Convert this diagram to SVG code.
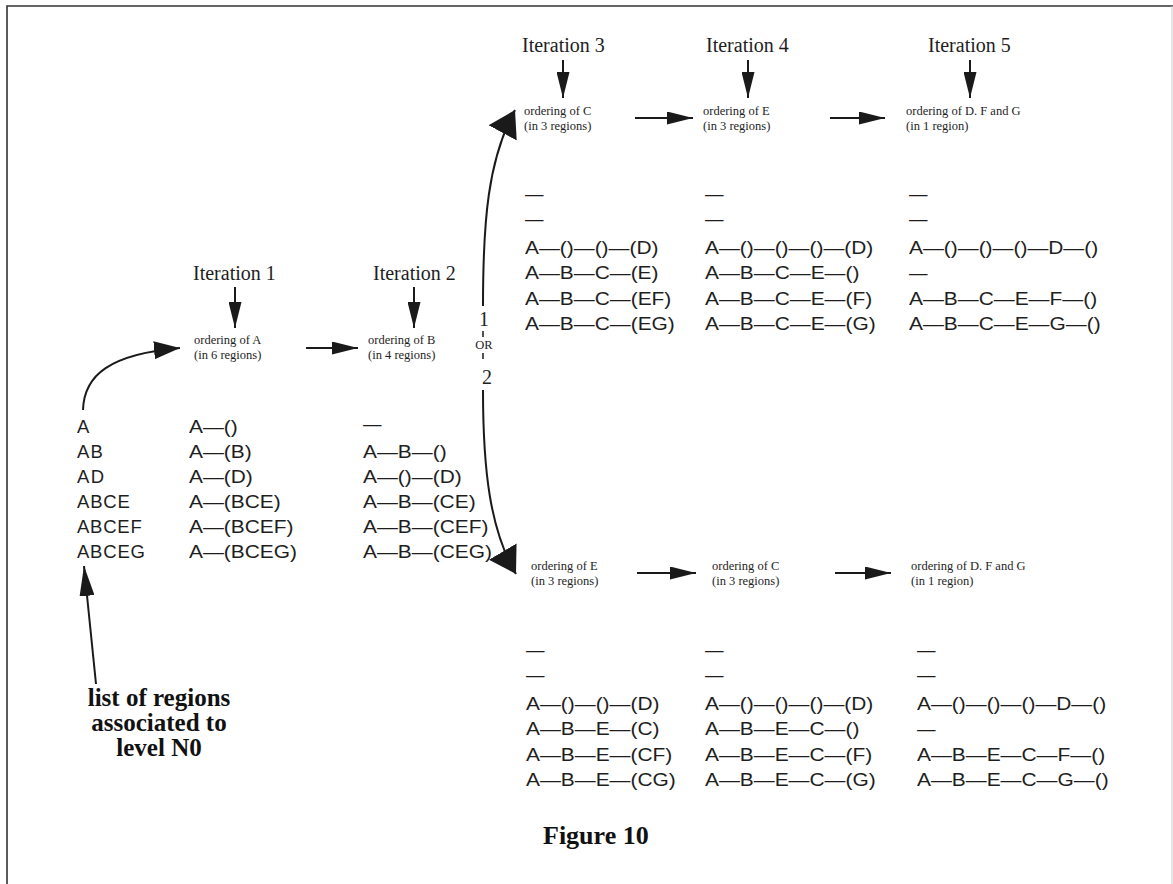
<svg xmlns="http://www.w3.org/2000/svg" width="1173" height="884" viewBox="0 0 1173 884">
<style>
.it{font-family:"Liberation Serif",serif;font-size:20px;fill:#1e1e1e}
.ord{font-family:"Liberation Serif",serif;font-size:12.5px;fill:#1e1e1e}
.ls{font-family:"Liberation Sans",sans-serif;font-size:18.5px;fill:#1e1e1e}
.bold{font-family:"Liberation Serif",serif;font-weight:bold;fill:#111}
.ln{fill:none;stroke:#1a1a1a;stroke-width:2}
.thin{fill:none;stroke:#1a1a1a;stroke-width:1.5}
.frame{fill:none;stroke:#333;stroke-width:1.6}
</style>
<defs>
<marker id="ma" markerUnits="userSpaceOnUse" markerWidth="26" markerHeight="13" refX="26" refY="6.5" orient="auto"><path d="M0,0 L26,6.5 L0,13 z" fill="#1a1a1a"/></marker>
<marker id="mb" markerUnits="userSpaceOnUse" markerWidth="26" markerHeight="18" refX="26" refY="9" orient="auto"><path d="M0,0 L26,9 L0,18 z" fill="#1a1a1a"/></marker>
<marker id="mc" markerUnits="userSpaceOnUse" markerWidth="30" markerHeight="15" refX="30" refY="7.5" orient="auto"><path d="M0,0 L30,7.5 L0,15 z" fill="#1a1a1a"/></marker>
<marker id="mw" markerUnits="userSpaceOnUse" markerWidth="26" markerHeight="32" refX="26" refY="16" orient="auto"><path d="M0,0 L26,16 L0,32 z" fill="#1a1a1a"/></marker>
</defs>
<rect width="1173" height="884" fill="#fff"/>
<path class="frame" d="M7,884 L7,6 L1173,6"/>
<path d="M1172,6 L1172,884" fill="none" stroke="#ccc" stroke-width="1"/>

<g id="connectors">
<path class="ln" d="M83,410 C84,375 110,354 180,348" marker-end="url(#mb)"/>
<path class="ln" d="M235,287 L235,328" marker-end="url(#ma)"/>
<path class="ln" d="M414,287 L414,328" marker-end="url(#ma)"/>
<path class="ln" d="M306,348 L358,348" marker-end="url(#ma)"/>
<path class="ln" d="M563,60 L563,98" marker-end="url(#ma)"/>
<path class="ln" d="M748,60 L748,98" marker-end="url(#ma)"/>
<path class="ln" d="M970,60 L970,98" marker-end="url(#ma)"/>
<path class="ln" d="M635,118 L693,118" marker-end="url(#ma)"/>
<path class="ln" d="M830,118 L885,118" marker-end="url(#ma)"/>
<path class="ln" d="M637,573 L696,573" marker-end="url(#ma)"/>
<path class="ln" d="M835,573 L891,573" marker-end="url(#ma)"/>
<path class="ln" d="M483,306 C483,220 488,160 515,110" marker-end="url(#mw)"/>
<path class="ln" d="M483,390 C483,470 490,530 516,574" marker-end="url(#mw)"/>
<path class="thin" d="M483,331 L483,337 M483,353 L483,359"/>
<path class="ln" d="M96,684 L84,566" marker-end="url(#mc)"/>
</g>

<g id="or-label">
<text class="it" x="484" y="326" text-anchor="middle" font-size="19">1</text>
<text class="ord" x="484" y="349" text-anchor="middle" font-size="10">OR</text>
<text class="it" x="487" y="384" text-anchor="middle" font-size="19">2</text>
</g>

<g id="n0-list" class="ls">
<text x="77" y="433">A</text>
<text x="77" y="458" textLength="25.9">AB</text>
<text x="77" y="483" textLength="27">AD</text>
<text x="77" y="508" textLength="52.8">ABCE</text>
<text x="77" y="533" textLength="64.7">ABCEF</text>
<text x="77" y="558" textLength="67.9">ABCEG</text>
</g>

<g id="iteration1">
<text class="it" x="193" y="280">Iteration 1</text>
<text class="ord" x="194" y="344">ordering of A</text>
<text class="ord" x="194" y="359">(in 6 regions)</text>
<g class="ls">
<text x="189" y="433" textLength="48.8" lengthAdjust="spacingAndGlyphs">A—()</text>
<text x="189" y="458" textLength="62.7" lengthAdjust="spacingAndGlyphs">A—(B)</text>
<text x="189" y="483" textLength="63.8" lengthAdjust="spacingAndGlyphs">A—(D)</text>
<text x="189" y="508" textLength="91.7" lengthAdjust="spacingAndGlyphs">A—(BCE)</text>
<text x="189" y="533" textLength="104.5" lengthAdjust="spacingAndGlyphs">A—(BCEF)</text>
<text x="189" y="558" textLength="108" lengthAdjust="spacingAndGlyphs">A—(BCEG)</text>
</g>
</g>

<g id="iteration2">
<text class="it" x="373" y="280">Iteration 2</text>
<text class="ord" x="368" y="344">ordering of B</text>
<text class="ord" x="368" y="359">(in 4 regions)</text>
<g class="ls">
<text x="363" y="430">—</text>
<text x="363" y="458" textLength="83.6" lengthAdjust="spacingAndGlyphs">A—B—()</text>
<text x="363" y="483" textLength="98.7" lengthAdjust="spacingAndGlyphs">A—()—(D)</text>
<text x="363" y="508" textLength="112.6" lengthAdjust="spacingAndGlyphs">A—B—(CE)</text>
<text x="363" y="533" textLength="125.4" lengthAdjust="spacingAndGlyphs">A—B—(CEF)</text>
<text x="363" y="558" textLength="128.9" lengthAdjust="spacingAndGlyphs">A—B—(CEG)</text>
</g>
</g>

<g id="iteration3-c">
<text class="it" x="522" y="52">Iteration 3</text>
<text class="ord" x="524" y="115">ordering of C</text>
<text class="ord" x="524" y="130">(in 3 regions)</text>
<g class="ls">
<text x="525" y="200">—</text>
<text x="525" y="225">—</text>
<text x="525" y="254" textLength="133.5" lengthAdjust="spacingAndGlyphs">A—()—()—(D)</text>
<text x="525" y="279" textLength="133.5" lengthAdjust="spacingAndGlyphs">A—B—C—(E)</text>
<text x="525" y="304.5" textLength="146.3" lengthAdjust="spacingAndGlyphs">A—B—C—(EF)</text>
<text x="525" y="330" textLength="149.8" lengthAdjust="spacingAndGlyphs">A—B—C—(EG)</text>
</g>
</g>

<g id="iteration4-e">
<text class="it" x="706" y="52">Iteration 4</text>
<text class="ord" x="703" y="115">ordering of E</text>
<text class="ord" x="703" y="130">(in 3 regions)</text>
<g class="ls">
<text x="705" y="200">—</text>
<text x="705" y="225">—</text>
<text x="705" y="254" textLength="168.3" lengthAdjust="spacingAndGlyphs">A—()—()—()—(D)</text>
<text x="705" y="279" textLength="154.4" lengthAdjust="spacingAndGlyphs">A—B—C—E—()</text>
<text x="705" y="304.5" textLength="167.2" lengthAdjust="spacingAndGlyphs">A—B—C—E—(F)</text>
<text x="705" y="330" textLength="170.7" lengthAdjust="spacingAndGlyphs">A—B—C—E—(G)</text>
</g>
</g>

<g id="iteration5-dfg">
<text class="it" x="928" y="52">Iteration 5</text>
<text class="ord" x="906" y="115">ordering of D. F and G</text>
<text class="ord" x="906" y="130">(in 1 region)</text>
<g class="ls">
<text x="909" y="200">—</text>
<text x="909" y="225">—</text>
<text x="909" y="254" textLength="189.2" lengthAdjust="spacingAndGlyphs">A—()—()—()—D—()</text>
<text x="909" y="279">—</text>
<text x="909" y="304.5" textLength="188.1" lengthAdjust="spacingAndGlyphs">A—B—C—E—F—()</text>
<text x="909" y="330" textLength="191.6" lengthAdjust="spacingAndGlyphs">A—B—C—E—G—()</text>
</g>
</g>

<g id="alt-e">
<text class="ord" x="531" y="570">ordering of E</text>
<text class="ord" x="531" y="585">(in 3 regions)</text>
<g class="ls">
<text x="526" y="656">—</text>
<text x="526" y="681">—</text>
<text x="526" y="710" textLength="133.5" lengthAdjust="spacingAndGlyphs">A—()—()—(D)</text>
<text x="526" y="735" textLength="133.5" lengthAdjust="spacingAndGlyphs">A—B—E—(C)</text>
<text x="526" y="760.5" textLength="146.3" lengthAdjust="spacingAndGlyphs">A—B—E—(CF)</text>
<text x="526" y="786" textLength="149.8" lengthAdjust="spacingAndGlyphs">A—B—E—(CG)</text>
</g>
</g>

<g id="alt-c">
<text class="ord" x="712" y="570">ordering of C</text>
<text class="ord" x="712" y="585">(in 3 regions)</text>
<g class="ls">
<text x="705" y="656">—</text>
<text x="705" y="681">—</text>
<text x="705" y="710" textLength="168.3" lengthAdjust="spacingAndGlyphs">A—()—()—()—(D)</text>
<text x="705" y="735" textLength="154.4" lengthAdjust="spacingAndGlyphs">A—B—E—C—()</text>
<text x="705" y="760.5" textLength="167.2" lengthAdjust="spacingAndGlyphs">A—B—E—C—(F)</text>
<text x="705" y="786" textLength="170.7" lengthAdjust="spacingAndGlyphs">A—B—E—C—(G)</text>
</g>
</g>

<g id="alt-dfg">
<text class="ord" x="911" y="570">ordering of D. F and G</text>
<text class="ord" x="911" y="585">(in 1 region)</text>
<g class="ls">
<text x="917" y="656">—</text>
<text x="917" y="681">—</text>
<text x="917" y="710" textLength="189.2" lengthAdjust="spacingAndGlyphs">A—()—()—()—D—()</text>
<text x="917" y="735">—</text>
<text x="917" y="760.5" textLength="188.1" lengthAdjust="spacingAndGlyphs">A—B—E—C—F—()</text>
<text x="917" y="786" textLength="191.6" lengthAdjust="spacingAndGlyphs">A—B—E—C—G—()</text>
</g>
</g>

<g id="n0-caption" class="bold" font-size="25" text-anchor="middle">
<text x="159" y="706">list of regions</text>
<text x="159" y="731">associated to</text>
<text x="159" y="756">level N0</text>
</g>

<g id="figure-title">
<text class="bold" x="543" y="844" font-size="26">Figure 10</text>
</g>
</svg>
